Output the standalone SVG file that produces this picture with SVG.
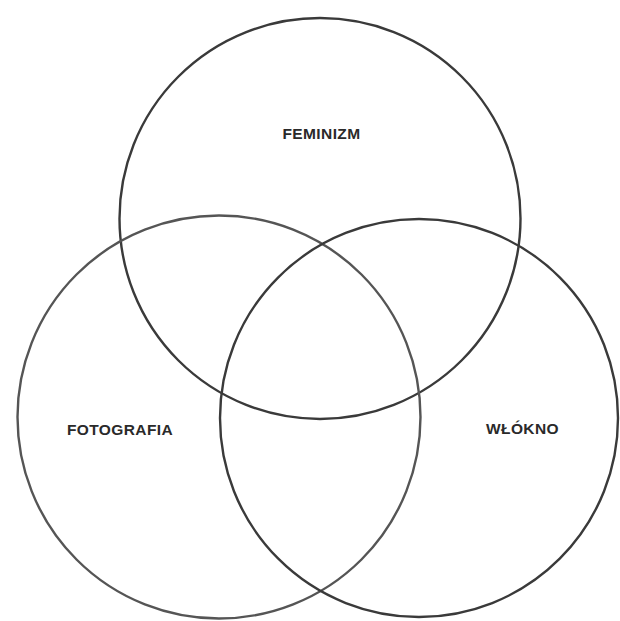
<svg xmlns="http://www.w3.org/2000/svg" width="620" height="621" viewBox="0 0 620 621">
<style>
.c{fill:none;stroke:#3a3a3a;stroke-width:2.4}
.t{font-family:"Liberation Sans",Arial,sans-serif;font-weight:bold;font-size:15.5px;fill:#2a2a2a;text-anchor:middle;letter-spacing:0.4px}
</style>
<rect width="620" height="621" fill="#ffffff"/>
<g id="feminizm">
<circle class="c" cx="320" cy="218.5" r="200.5"/>
<text class="t" x="321.5" y="139">FEMINIZM</text>
</g>
<g id="fotografia">
<circle class="c" cx="219" cy="417" r="201.5" style="stroke:#555"/>
<text class="t" x="120" y="435">FOTOGRAFIA</text>
</g>
<g id="wlokno">
<circle class="c" cx="419" cy="418" r="199"/>
<text class="t" x="522.5" y="434">WŁÓKNO</text>
</g>
<g id="connectors"/>
</svg>
